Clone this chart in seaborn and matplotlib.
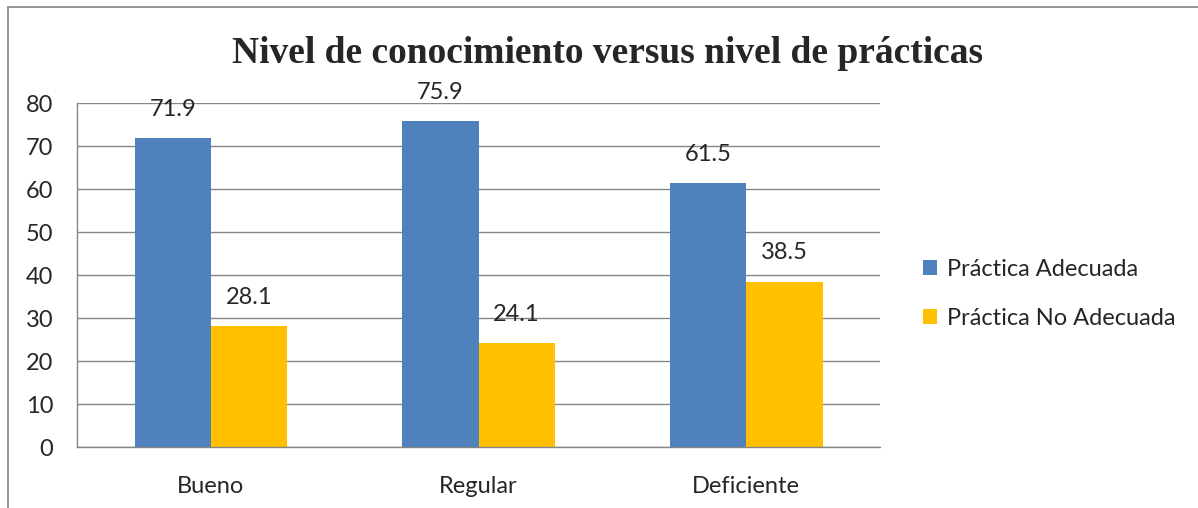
import matplotlib
matplotlib.use('Agg')
import matplotlib.pyplot as plt
import seaborn as sns
import pandas as pd

categorias = ['Bueno', 'Regular', 'Deficiente']
series = ['Práctica Adecuada', 'Práctica No Adecuada']
adecuada = [71.9, 75.9, 61.5]
no_adecuada = [28.1, 24.1, 38.5]
colores = ['#4F81BD', '#FFC000']

df = pd.DataFrame({
    'nivel': categorias * 2,
    'serie': [series[0]] * 3 + [series[1]] * 3,
    'valor': adecuada + no_adecuada,
})

sns.set_style('white')
plt.rcParams['font.family'] = ['Lato', 'DejaVu Sans']

fig = plt.figure(figsize=(11.98, 5.08), dpi=100)
ax = fig.add_axes([0.0643, 0.120, 0.6703, 0.677])

sns.barplot(data=df, x='nivel', y='valor', hue='serie', palette=colores,
            width=0.57, saturation=1, linewidth=0, ax=ax, legend=True)

ax.set_ylim(0, 80)
ax.set_yticks(range(0, 81, 10))
ax.set_xlim(-0.5, 2.5)
ax.yaxis.grid(True, color='#868686', linewidth=1)
ax.set_axisbelow(True)
for s in ['top', 'right']:
    ax.spines[s].set_visible(False)
for s in ['left', 'bottom']:
    ax.spines[s].set_color('#868686')
    ax.spines[s].set_linewidth(1)
ax.set_xlabel('')
ax.set_ylabel('')
ax.tick_params(axis='both', labelsize=17, length=0)
ax.tick_params(axis='y', pad=17)
ax.tick_params(axis='x', pad=21)

for cont in ax.containers:
    ax.bar_label(cont, fmt='%.1f', padding=13, fontsize=17)

ax.legend(loc='center left', bbox_to_anchor=(1.027, 0.445), frameon=False,
          fontsize=17, handlelength=0.6, handleheight=0.6, handletextpad=0.4,
          labelspacing=1.2)

fig.text(0.507, 0.895, 'Nivel de conocimiento versus nivel de prácticas',
         ha='center', va='center', fontsize=27, fontweight='bold',
         family='Liberation Serif')

# borde del gráfico
fig.add_artist(plt.Line2D([0.007, 0.007], [0, 0.986], color='#868686', linewidth=1.2))
fig.add_artist(plt.Line2D([0.007, 1.0], [0.986, 0.986], color='#868686', linewidth=1.2))

fig.savefig('out.png', dpi=100)
